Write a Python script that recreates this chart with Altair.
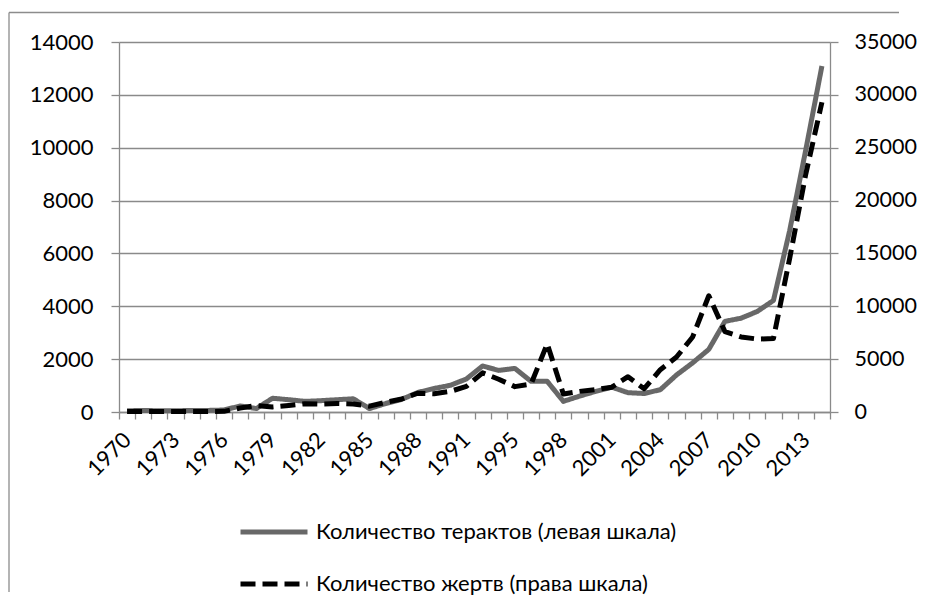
import json
import altair as alt
import pandas as pd

years = [str(y) for y in list(range(1970, 1993)) + list(range(1994, 2015))]
attacks = [50, 55, 50, 50, 55, 60, 75, 230, 130, 520,
           466, 403, 428, 466, 500, 130, 320, 480, 740, 890,
           1010, 1250, 1740, 1575, 1650, 1160, 1160, 403, 600, 781,
           940, 730, 700, 844, 1400, 1860, 2370, 3430, 3550, 3805,
           4220, 6850, 9916, 13090]
victims = [40, 40, 40, 40, 50, 50, 60, 380, 620, 480,
           620, 780, 760, 800, 760, 550, 920, 1230, 1780, 1730,
           1950, 2420, 3700, 3100, 2400, 2650, 6450, 1700, 1950, 2110,
           2350, 3340, 2200, 4000, 5200, 7100, 11000, 7600, 7100, 6900,
           6950, 14500, 22500, 29300]
label_years = years[::3]
left_ticks = list(range(0, 14001, 2000))
right_ticks = list(range(0, 35001, 5000))

S1 = "Количество терактов (левая шкала)"
S2 = "Количество жертв (права шкала)"

df1 = pd.DataFrame({"year": years, "value": attacks, "series": S1})
df2 = pd.DataFrame({"year": years, "value": victims, "series": S2})

FONT = "Lato"
AX = "#8a8a8a"

label_expr = "indexof(" + json.dumps(label_years) + ", datum.value) >= 0 ? datum.value : ''"

x_enc = alt.X(
    "year:N",
    scale=alt.Scale(type="band", domain=years, paddingInner=0, paddingOuter=0),
    bandPosition=0.5,
    axis=alt.Axis(title=None, labelExpr=label_expr, labelAngle=315, labelAlign="right",
                  labelBaseline="middle", tickBand="extent", tickSize=7, labelPadding=17,
                  labelOverlap=False, grid=False, domainColor=AX, tickColor=AX,
                  domainWidth=1.3, tickWidth=1.3),
)

legend = alt.Legend(title=None, orient="none", legendX=119, legendY=475, direction="vertical",
                    symbolType="stroke", symbolSize=4489, symbolStrokeWidth=5,
                    labelFont=FONT, labelFontSize=22, labelColor="black", labelOffset=6,
                    rowPadding=22, clipHeight=30, padding=0, labelLimit=0)

color_enc = alt.Color("series:N", scale=alt.Scale(domain=[S1, S2], range=["#686868", "#000000"]),
                      legend=legend)
dash_enc = alt.StrokeDash("series:N", scale=alt.Scale(domain=[S1, S2], range=[[1, 0], [15, 7]]),
                          legend=legend)

line1 = alt.Chart(df1).mark_line(strokeWidth=5, strokeJoin="round").encode(
    x=x_enc,
    y=alt.Y("value:Q", scale=alt.Scale(domain=[0, 14000], nice=False),
            axis=alt.Axis(orient="left", title=None, values=left_ticks, format="d", grid=True,
                          gridColor=AX, gridWidth=1.3, tickSize=8, labelPadding=18,
                          domainColor=AX, tickColor=AX, domainWidth=1.3, tickWidth=1.3)),
    color=color_enc,
    strokeDash=dash_enc,
)

line2 = alt.Chart(df2).mark_line(strokeWidth=5, strokeJoin="round").encode(
    x=x_enc,
    y=alt.Y("value:Q", scale=alt.Scale(domain=[0, 35000], nice=False),
            axis=alt.Axis(orient="right", title=None, values=right_ticks, format="d", grid=False,
                          tickSize=8, labelPadding=16, labelFontSize=21.5,
                          domainColor=AX, tickColor=AX, domainWidth=1.3, tickWidth=1.3)),
    color=color_enc,
    strokeDash=dash_enc,
)

one = pd.DataFrame({"k": [0]})
frame_top = alt.Chart(one).mark_rule(stroke="#8c8c8c", strokeWidth=1.3).encode(
    x=alt.value(-110), x2=alt.value(780), y=alt.value(-29.5))
frame_left = alt.Chart(one).mark_rule(stroke="#8c8c8c", strokeWidth=1.3).encode(
    x=alt.value(-110), y=alt.value(-29.5), y2=alt.value(550))

chart = alt.layer(frame_top, frame_left, line1, line2).resolve_scale(y="independent").properties(
    width=711, height=370,
    autosize=alt.AutoSizeParams(type="none"),
    padding={"left": 111, "top": 34, "right": 88, "bottom": 186},
).configure_view(stroke=None).configure_axis(
    labelFont=FONT, labelFontSize=22, labelColor="black"
)

chart.save("out.html", embed_options={"renderer": "svg", "actions": False})
